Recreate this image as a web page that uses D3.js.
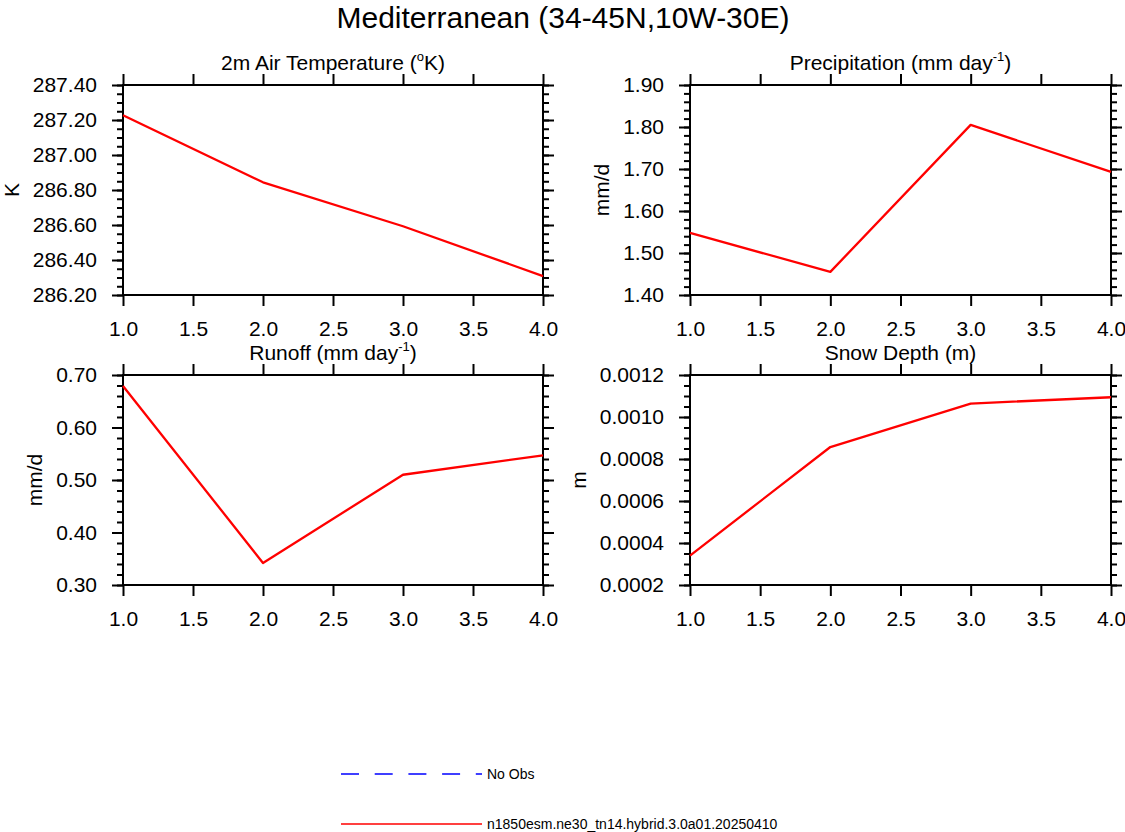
<!DOCTYPE html>
<html>
<head>
<meta charset="utf-8">
<script src="https://cdn.jsdelivr.net/npm/d3@7"></script>
<style>
  body { margin: 0; background: #fff; }
  svg { display: block; }
  text { font-family: "Liberation Sans", Arial, Helvetica, sans-serif; fill: #000; }
</style>
</head>
<body>
<svg id="chart" width="1125" height="832"></svg>
<script>
// Data
const xValues = [1, 2, 3, 4];
const xTicks = [1.0, 1.5, 2.0, 2.5, 3.0, 3.5, 4.0];

const tempValues = [287.227, 286.844, 286.593, 286.308];
const tempTicks = [286.2, 286.4, 286.6, 286.8, 287.0, 287.2, 287.4];

const precipValues = [1.548, 1.455, 1.805, 1.693];
const precipTicks = [1.4, 1.5, 1.6, 1.7, 1.8, 1.9];

const runoffValues = [0.679, 0.342, 0.510, 0.547];
const runoffTicks = [0.3, 0.4, 0.5, 0.6, 0.7];

const snowValues = [0.000340, 0.000857, 0.001064, 0.001094];
const snowTicks = [0.0002, 0.0004, 0.0006, 0.0008, 0.0010, 0.0012];

const mainTitle = 'Mediterranean (34-45N,10W-30E)';
const legendLabels = ['No Obs', 'n1850esm.ne30_tn14.hybrid.3.0a01.20250410'];

// panel setup (title parts: text, superscript, text after)
const panels = [
    { title: ['2m Air Temperature (', 'o', 'K)'], unit: 'K', values: tempValues, ticks: tempTicks, minorStep: 0.05, fmt: '.2f',
      left: 123, top: 85, width: 420 },
    { title: ['Precipitation (mm day', '-1', ')'], unit: 'mm/d', values: precipValues, ticks: precipTicks, minorStep: 0.02, fmt: '.2f',
      left: 690, top: 85, width: 421 },
    { title: ['Runoff (mm day', '-1', ')'], unit: 'mm/d', values: runoffValues, ticks: runoffTicks, minorStep: 0.02, fmt: '.2f',
      left: 123, top: 375, width: 420 },
    { title: ['Snow Depth (m)', '', ''], unit: 'm', values: snowValues, ticks: snowTicks, minorStep: 0.00005, fmt: '.4f',
      left: 690, top: 375, width: 421 }
];
const panelHeight = 210;

const svg = d3.select('#chart');

svg.append('text')
    .attr('x', 563)
    .attr('y', 28)
    .attr('text-anchor', 'middle')
    .style('font-size', '30px')
    .text(mainTitle);

const styleAxis = (sel) => {
    sel.attr('font-size', 21).attr('font-family', '"Liberation Sans", Arial, Helvetica, sans-serif');
    sel.select('.domain').remove();
    sel.selectAll('line').attr('stroke', '#000').attr('stroke-width', 2);
};

panels.forEach(p => {
    const w = p.width, h = panelHeight;
    const g = svg.append('g').attr('transform', `translate(${p.left},${p.top})`);

    const x = d3.scaleLinear().domain([1, 4]).range([0, w]);
    const yDomain = [p.ticks[0], p.ticks[p.ticks.length - 1]];
    const y = d3.scaleLinear().domain(yDomain).range([h, 0]);

    // minor y ticks
    const nMinor = Math.round((yDomain[1] - yDomain[0]) / p.minorStep);
    const minor = d3.range(nMinor + 1).map(i => yDomain[0] + i * p.minorStep);

    g.append('g')
        .call(d3.axisLeft(y).tickValues(minor).tickSize(6).tickSizeOuter(0).tickFormat(''))
        .call(styleAxis);
    g.append('g')
        .attr('transform', `translate(${w},0)`)
        .call(d3.axisRight(y).tickValues(minor).tickSize(6).tickSizeOuter(0).tickFormat(''))
        .call(styleAxis);

    // major ticks
    const leftAxis = g.append('g')
        .call(d3.axisLeft(y).tickValues(p.ticks).tickSize(11).tickSizeOuter(0).tickPadding(15).tickFormat(d3.format(p.fmt)))
        .call(styleAxis);
    g.append('g')
        .attr('transform', `translate(${w},0)`)
        .call(d3.axisRight(y).tickValues(p.ticks).tickSize(11).tickSizeOuter(0).tickFormat(''))
        .call(styleAxis);
    g.append('g')
        .attr('transform', `translate(0,${h})`)
        .call(d3.axisBottom(x).tickValues(xTicks).tickSize(11).tickSizeOuter(0).tickPadding(15).tickFormat(d3.format('.1f')))
        .call(styleAxis);
    g.append('g')
        .call(d3.axisTop(x).tickValues(xTicks).tickSize(11).tickSizeOuter(0).tickFormat(''))
        .call(styleAxis);

    // frame
    g.append('rect')
        .attr('width', w)
        .attr('height', h)
        .attr('fill', 'none')
        .attr('stroke', '#000')
        .attr('stroke-width', 2);

    // data line
    g.append('path')
        .datum(xValues.map((d, i) => [d, p.values[i]]))
        .attr('fill', 'none')
        .attr('stroke', '#ff0000')
        .attr('stroke-width', 2.3)
        .attr('stroke-linejoin', 'round')
        .attr('d', d3.line().x(d => x(d[0])).y(d => y(d[1])));

    // panel title with superscript
    const t = g.append('text')
        .attr('x', w / 2)
        .attr('y', -15)
        .attr('text-anchor', 'middle')
        .style('font-size', '21px');
    t.append('tspan').text(p.title[0]);
    if (p.title[1]) {
        t.append('tspan').attr('dy', -9).style('font-size', '13px').text(p.title[1]);
        t.append('tspan').attr('dy', 9).text(p.title[2]);
    }

    // y-axis title, placed left of the tick labels
    const labelLeft = leftAxis.node().getBBox().x;
    g.append('text')
        .attr('transform', `translate(${labelLeft - 14},${h / 2}) rotate(-90)`)
        .attr('text-anchor', 'middle')
        .style('font-size', '21px')
        .text(p.unit);
});

// Legend
const legendY = [774, 824];
const legendColors = ['#0000ff', '#ff0000'];
const legendDash = ['18,15.7', null];

legendLabels.forEach((label, i) => {
    svg.append('line')
        .attr('x1', 341)
        .attr('x2', 482)
        .attr('y1', legendY[i])
        .attr('y2', legendY[i])
        .attr('stroke', legendColors[i])
        .attr('stroke-width', 1.5)
        .attr('stroke-dasharray', legendDash[i]);
    svg.append('text')
        .attr('x', 487)
        .attr('y', legendY[i] + 5)
        .style('font-size', '14px')
        .text(label);
});
</script>
</body>
</html>
